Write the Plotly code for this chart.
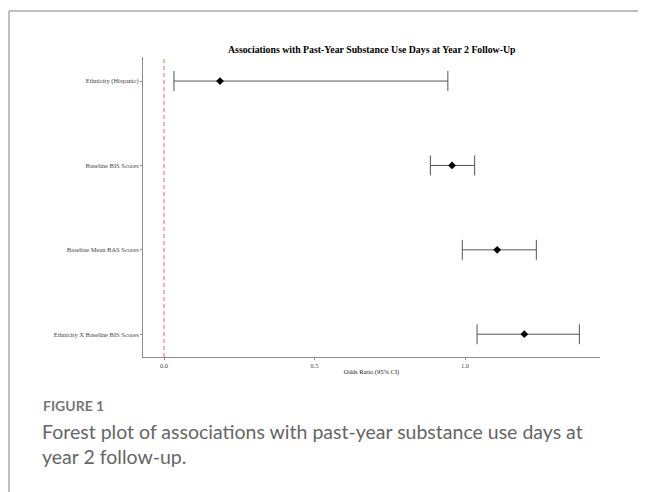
import plotly.graph_objects as go

terms = ["Ethnicity (Hispanic)", "Baseline BIS Scores", "Baseline Mean BAS Scores",
         "Ethnicity X Baseline BIS Scores"]
odds_ratio = [0.186, 0.957, 1.107, 1.197]
ci_low = [0.033, 0.885, 0.991, 1.040]
ci_high = [0.943, 1.032, 1.237, 1.380]
x_ticks = [0.0, 0.5, 1.0]
x_tick_labels = ["0.0", "0.5", "1.0"]

title = "Associations with Past-Year Substance Use Days at Year 2 Follow-Up"
x_title = "Odds Ratio (95% CI)"
fig_label = "FIGURE 1"
caption_lines = ["Forest plot of associations with past-year substance use days at",
                 "year 2 follow-up."]

OFF = 8  # page body margin
W, H = 646 - OFF, 492 - OFF
L, R, T, B = 143 - OFF, 600 - OFF, 57 - OFF, 357 - OFF

def px_x(p):
    return (p - OFF - L) / (R - L)

def px_y(p):
    return (B - (p - OFF)) / (B - T)

fig = go.Figure()
fig.add_trace(go.Scatter(
    x=odds_ratio, y=terms, mode="markers",
    marker=dict(symbol="diamond", size=6, color="black"),
    error_x=dict(type="data", symmetric=False,
                 array=[h - o for h, o in zip(ci_high, odds_ratio)],
                 arrayminus=[o - l for o, l in zip(odds_ratio, ci_low)],
                 color="#555555", thickness=1, width=10),
    showlegend=False, hoverinfo="skip",
))

serif = "Liberation Serif, Times New Roman, serif"
sans = "Lato, Open Sans, sans-serif"

fig.update_layout(
    width=W, height=H,
    margin=dict(l=L, r=W - R, t=T, b=H - B, pad=0),
    paper_bgcolor="white", plot_bgcolor="white",
    xaxis=dict(range=[-0.0698, 1.4485], tickvals=x_ticks, ticktext=x_tick_labels,
               showgrid=False, zeroline=False, showline=True, linecolor="#8c8c8c",
               linewidth=1, ticks="outside", ticklen=2, tickcolor="#8c8c8c",
               tickfont=dict(family=serif, size=6.5, color="#444444"),
               title=dict(text=x_title, font=dict(family=serif, size=6.5, color="#222222"),
                          standoff=1)),
    yaxis=dict(categoryorder="array", categoryarray=terms, autorange=False,
               range=[3.27, -0.285],
               showgrid=False, zeroline=False, showline=True, linecolor="#8c8c8c",
               linewidth=1, ticks="outside", ticklen=2, tickcolor="#8c8c8c",
               tickfont=dict(family=serif, size=6.5, color="#444444")),
    shapes=[
        dict(type="line", xref="x", yref="paper", x0=0, x1=0, y0=0, y1=1,
             line=dict(color="#ff5a5a", width=1, dash="4px,3px")),
        dict(type="line", xref="paper", yref="paper", x0=px_x(9), x1=px_x(660),
             y0=px_y(11), y1=px_y(11), line=dict(color="#aaaaaa", width=1.5)),
        dict(type="line", xref="paper", yref="paper", x0=px_x(9), x1=px_x(9),
             y0=px_y(11), y1=px_y(500), line=dict(color="#aaaaaa", width=1.5)),
    ],
    annotations=[
        dict(text="<b>" + title + "</b>", xref="paper", yref="paper", x=0.5, y=px_y(49),
             xanchor="center", yanchor="middle", showarrow=False,
             font=dict(family=serif, size=9.8, color="black")),
        dict(text="<b>" + fig_label + "</b>", xref="paper", yref="paper", x=px_x(41),
             y=px_y(405), xanchor="left", yanchor="middle", showarrow=False,
             font=dict(family=sans, size=14, color="#777777")),
        dict(text=caption_lines[0], xref="paper", yref="paper", x=px_x(40),
             y=px_y(431), xanchor="left", yanchor="middle", showarrow=False,
             font=dict(family=sans, size=19.5, color="#666666")),
        dict(text=caption_lines[1], xref="paper", yref="paper", x=px_x(40),
             y=px_y(456), xanchor="left", yanchor="middle", showarrow=False,
             font=dict(family=sans, size=19.5, color="#666666")),
    ],
)

fig.write_html("out.html")
